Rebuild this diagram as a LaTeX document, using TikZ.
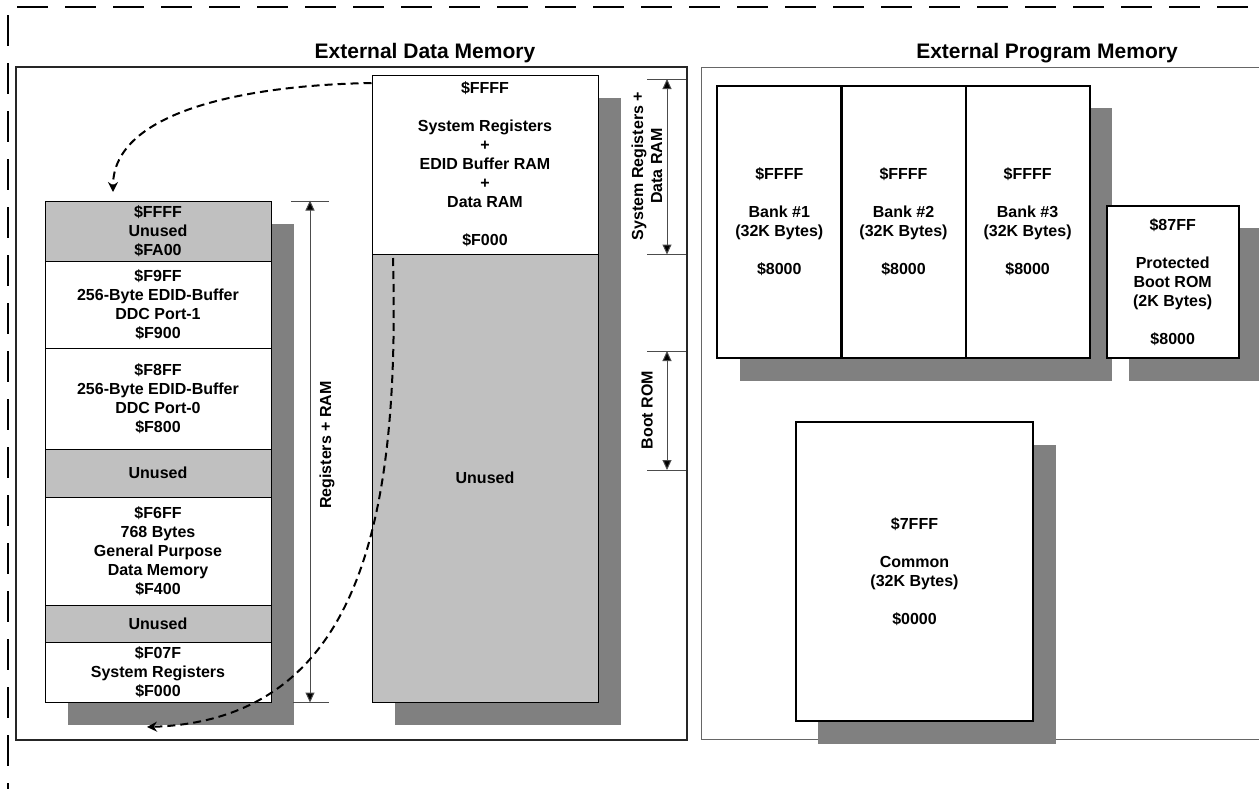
\documentclass[tikz,border=0pt]{standalone}
\usepackage{fontspec}
\setmainfont{Liberation Sans}
\usetikzlibrary{arrows.meta,shadows}
\definecolor{shadowgray}{HTML}{808080}
\definecolor{unusedgray}{HTML}{C0C0C0}
\newcommand\memfont{\fontsize{8}{9.5}\selectfont\bfseries}
\newcommand\headfont{\fontsize{10.5}{12}\selectfont\bfseries}
\tikzset{
  memblock/.style={draw=black, line width=0.5pt, fill=white, inner sep=0pt,
    align=center, font=\memfont},
  shadowed/.style={general shadow={fill=shadowgray, shadow xshift=11.3pt,
    shadow yshift=-11.3pt}},
  rombox/.style={memblock, line width=1pt, shadowed},
  dimline/.style={black!70, line width=0.5pt},
  dimarrow/.style={dimline, {Triangle[length=5pt,width=4.5pt,fill=black]}-{Triangle[length=5pt,width=4.5pt,fill=black]}},
  dimlabel/.style={font=\memfont, align=center, rotate=90, inner sep=0pt},
  hop/.style={line width=1pt, dash pattern=on 4pt off 2.5pt,
    -{Stealth[length=5pt,width=5pt]}},
  outline/.style={line width=1pt, dash pattern=on 15.5pt off 8.5pt},
}
\begin{document}
\begin{tikzpicture}[x=0.5pt, y=-0.5pt]
  \useasboundingbox (0,0) rectangle (1259,788);
  % frames
  \draw[outline] (17,7) -- (1262,7);
  \draw[outline] (8,15) -- (8,792);
  \draw[line width=1pt, black!85] (16,67) rectangle (687,740);
  \draw[line width=0.6pt, black!60] (1262,67.5) -- (701.5,67.5) -- (701.5,739.5) -- (1262,739.5);
  \node[font=\headfont, anchor=base] (tdata) at (425,58) {External Data Memory};
  \node[font=\headfont, anchor=base] (tprog) at (1047,58) {External Program Memory};

  % data memory map
  \foreach \n/\yc/\h/\fc/\txt in {
      lA/231/30/unusedgray/{\$FFFF\\Unused\\\$FA00},
      lB/304.5/43.5/white/{\$F9FF\\256-Byte EDID-Buffer\\DDC Port-1\\\$F900},
      lC/398.5/50.5/white/{\$F8FF\\256-Byte EDID-Buffer\\DDC Port-0\\\$F800},
      lD/473/24/unusedgray/{Unused},
      lE/551/54/white/{\$F6FF\\768 Bytes\\General Purpose\\Data Memory\\\$F400},
      lF/623.5/18.5/unusedgray/{Unused},
      lG/672/30/white/{\$F07F\\System Registers\\\$F000}}
    \node[memblock, shadowed, fill=\fc, minimum width=113pt, minimum height=\h pt] (\n) at (158,\yc) {\txt};
  \node[memblock, shadowed, minimum width=113pt, minimum height=89.5pt] (mA) at (485,164.5)
    {\$FFFF\\[9.5pt]System Registers\\+\\EDID Buffer RAM\\+\\Data RAM\\[9.5pt]\$F000};
  \node[memblock, shadowed, fill=unusedgray, minimum width=113pt, minimum height=224pt] (mB) at (485,478) {Unused};

  % dimensions
  \draw[dimline] (291,201) -- (329,201) (293,702) -- (329,702);
  \draw[dimarrow] (310,0 |- lA.north) -- (310,0 |- lG.south);
  \node[dimlabel] (regram) at (327,445) {Registers + RAM};
  \draw[dimline] (647,79) -- (686,79) (647,0 |- mA.south) -- (686,0 |- mA.south);
  \draw[dimarrow] (667,79) -- (667,0 |- mA.south);
  \node[dimlabel] (sysram) at (647,166) {System Registers +\\Data RAM};
  \draw[dimline] (647,351) -- (686,351) (647,470) -- (686,470);
  \draw[dimarrow] (667,351) -- (667,470);
  \node[dimlabel] (bootlbl) at (647,410) {Boot ROM};

  % program memory
  \foreach \n/\xc/\k in {bankA/779.3/1, bankB/903.5/2, bankC/1027.6/3}
    \node[rombox, minimum width=62pt, minimum height=136.15pt] (\n) at (\xc,222)
      {\$FFFF\\[9.5pt]Bank \#\k\\(32K Bytes)\\[9.5pt]\$8000};
  \node[rombox, minimum width=66pt, minimum height=76.3pt] (bootrom) at (1172.7,282)
    {\$87FF\\[9.5pt]Protected\\Boot ROM\\(2K Bytes)\\[9.5pt]\$8000};
  \node[rombox, minimum width=118.8pt, minimum height=149.35pt] (common) at (914.5,571.7)
    {\$7FFF\\[9.5pt]Common\\(32K Bytes)\\[9.5pt]\$0000};

  % hops
  \coordinate (hopAto) at (113,192);
  \coordinate (hopBfrom) at (393,258);
  \coordinate (hopBto) at (147,727);
  \draw[hop] (mA.west |- 0,83) .. controls (250,85) and (113,110) .. (hopAto);
  \draw[hop] (hopBfrom) .. controls (400,520) and (360,720) .. (hopBto);
\end{tikzpicture}
\end{document}
